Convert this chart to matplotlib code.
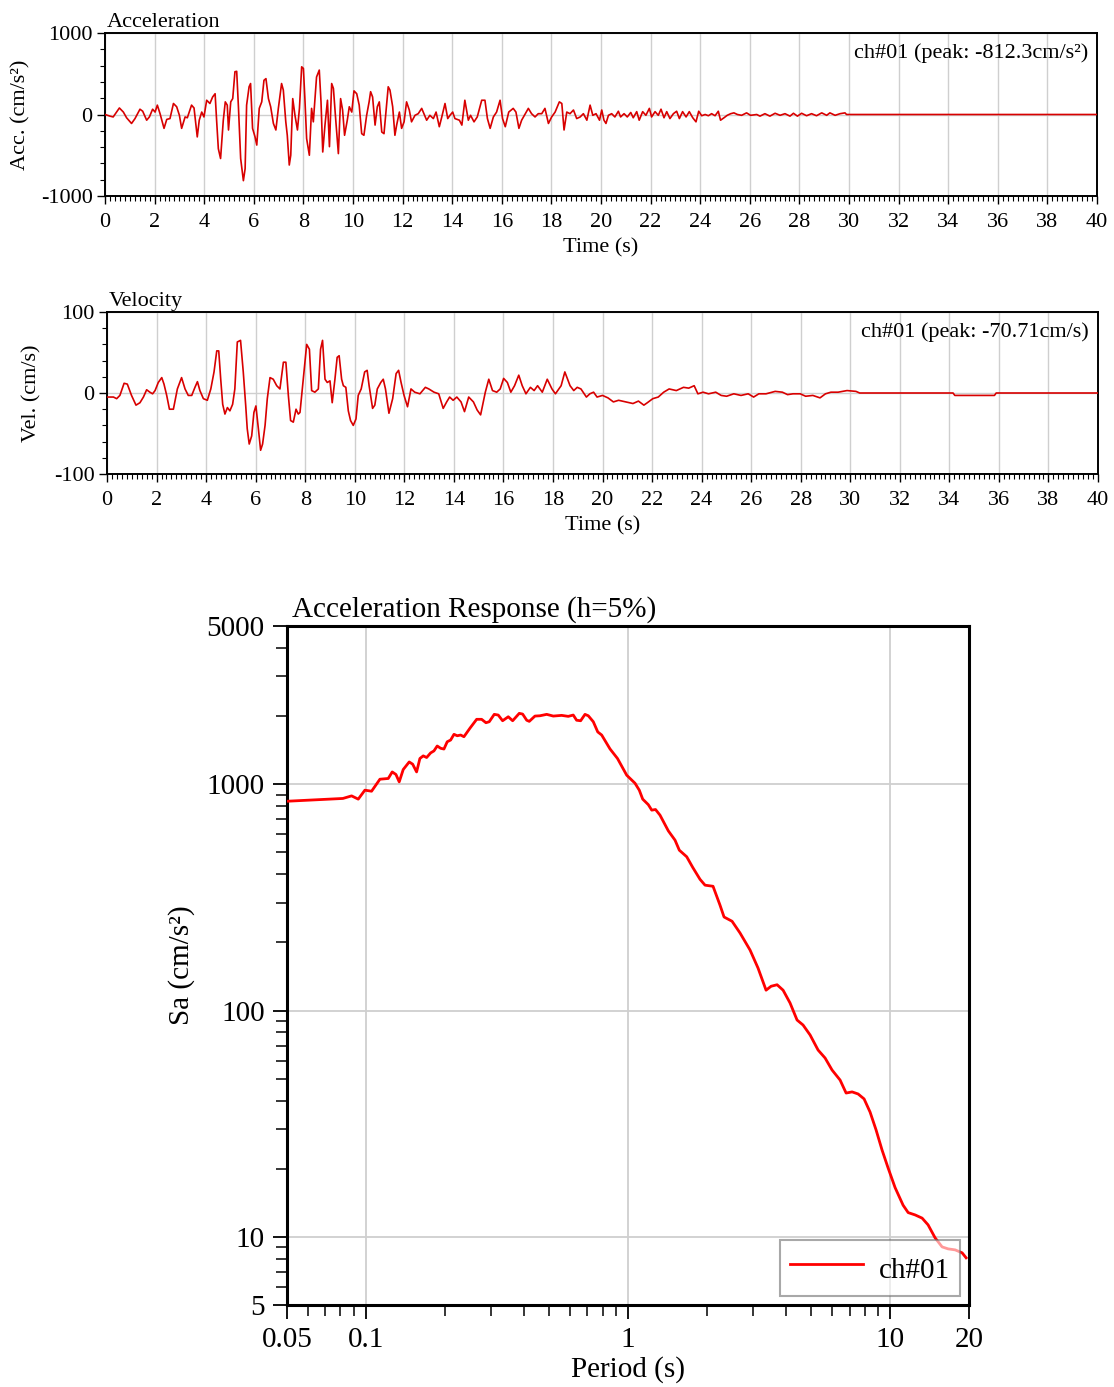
import matplotlib
matplotlib.use("Agg")
import matplotlib.pyplot as plt
from matplotlib.ticker import MultipleLocator, FixedLocator, NullFormatter

plt.rcParams['font.family'] = ['Liberation Serif', 'DejaVu Serif']
plt.rcParams['axes.unicode_minus'] = False

# acceleration time history (s, cm/s^2)
acc_t = [0.0, 0.2, 0.33, 0.58, 0.74, 0.87, 1.07, 1.21, 1.41, 1.52, 1.68, 1.79, 1.92, 2.02, 2.11,
         2.22, 2.38, 2.49, 2.62, 2.76, 2.89, 3.0, 3.09, 3.23, 3.32, 3.49, 3.59, 3.72, 3.8, 3.9,
         3.99, 4.1, 4.23, 4.34, 4.44, 4.5, 4.57, 4.66, 4.77, 4.85, 4.93, 4.98, 5.07, 5.15, 5.24,
         5.31, 5.38, 5.47, 5.58, 5.65, 5.71, 5.81, 5.87, 5.95, 6.05, 6.12, 6.22, 6.32, 6.41, 6.49,
         6.59, 6.68, 6.79, 6.89, 6.99, 7.12, 7.19, 7.29, 7.35, 7.43, 7.49, 7.57, 7.66, 7.76, 7.84,
         7.93, 8.0, 8.06, 8.13, 8.24, 8.33, 8.4, 8.53, 8.64, 8.71, 8.78, 8.87, 8.97, 9.05, 9.14,
         9.21, 9.31, 9.41, 9.5, 9.58, 9.66, 9.77, 9.85, 9.95, 10.04, 10.15, 10.25, 10.35, 10.44,
         10.55, 10.65, 10.71, 10.79, 10.89, 10.98, 11.06, 11.16, 11.25, 11.33, 11.42, 11.49, 11.6,
         11.69, 11.76, 11.87, 11.96, 12.06, 12.16, 12.27, 12.36, 12.5, 12.63, 12.77, 12.86, 12.97,
         13.1, 13.24, 13.35, 13.48, 13.58, 13.71, 13.82, 13.91, 14.02, 14.11, 14.29, 14.39, 14.51,
         14.65, 14.74, 14.88, 15.01, 15.19, 15.32, 15.42, 15.53, 15.66, 15.79, 15.93, 16.03, 16.14,
         16.28, 16.46, 16.57, 16.69, 16.8, 16.91, 17.07, 17.2, 17.34, 17.47, 17.61, 17.74, 17.88,
         18.01, 18.15, 18.32, 18.42, 18.51, 18.62, 18.75, 18.89, 19.02, 19.16, 19.29, 19.43, 19.56,
         19.67, 19.8, 19.94, 20.03, 20.12, 20.2, 20.3, 20.43, 20.56, 20.7, 20.79, 20.93, 21.06,
         21.2, 21.3, 21.44, 21.54, 21.68, 21.81, 21.95, 22.04, 22.18, 22.31, 22.42, 22.54, 22.65,
         22.78, 22.92, 23.05, 23.16, 23.29, 23.43, 23.56, 23.7, 23.83, 23.94, 24.06, 24.2, 24.33,
         24.46, 24.6, 24.73, 24.82, 24.96, 25.09, 25.23, 25.36, 25.5, 25.67, 25.87, 26.03, 26.28,
         26.41, 26.61, 26.81, 27.02, 27.22, 27.42, 27.62, 27.76, 27.92, 28.09, 28.29, 28.49, 28.69,
         28.9, 29.1, 29.23, 29.44, 29.64, 29.84, 29.9, 40.0]
acc_v = [0, -20, -30, 80, 30, -40, -110, -50, 65, 40, -70, -30, 65, 30, 115,
         10, -170, -60, -50, 135, 95, -10, -170, -30, -40, 115, 80, -275, -70, 30,
         -30, 175, 135, 215, 255, -70, -420, -540, -70, 155, 115, -190, 155, 195, 525,
         530, 95, -540, -812, -665, 115, 340, 380, -170, -275, -375, 75, 155, 420, 440,
         195, 95, -110, -190, 75, 380, 300, -90, -255, -620, -500, 195, -10, -190, 75,
         585, 565, 195, -295, -500, 75, -90, 460, 545, 155, -460, -130, 175, -395, 380,
         320, -90, -480, 195, 55, -255, -70, 95, 30, 290, 255, 115, -235, -255,
         -10, 155, 280, 215, -130, 95, 155, -215, -235, 30, 340, 300, 95,
         -255, -130, 30, -170, -90, 155, 55, -90, -10, 10, 75, 10, -70,
         -10, -50, 30, -150, -30, 135, -50, -10, 30, -50, -70, -130, 175,
         -70, -10, -90, -30, 175, 175, -50, -170, -30, 30, 175, -50, -150,
         30, 75, 30, -170, -70, -10, 75, 10, -30, 10, 10, 75, -110,
         -30, 30, 155, 135, -190, 30, 10, 55, -50, -30, 10, -70, 115,
         -10, 10, -70, 55, -70, -110, -10, 10, -30, 40, -30, 10, -30,
         25, -40, 35, -70, 35, -10, 75, -30, 35, -10, 65, -40, 35,
         -50, 10, 40, -50, 35, -30, 35, -40, -90, 40, -15, 0, -15,
         10, -15, 40, -70, -40, -10, 10, 20, 0, -10, 20, -10, 0,
         -20, 10, -20, 15, -10, 10, -20, 15, -20, 15, -15, 10, -15,
         20, -10, 20, -10, 10, 20, 0, 0]

# velocity time history (s, cm/s)
vel_t = [0.0, 0.26, 0.39, 0.52, 0.69, 0.82, 0.99, 1.17, 1.33, 1.47, 1.6, 1.73, 1.84, 1.94, 2.07,
         2.21, 2.3, 2.41, 2.52, 2.68, 2.84, 3.01, 3.15, 3.28, 3.42, 3.55, 3.65, 3.75, 3.89, 4.05,
         4.19, 4.32, 4.43, 4.51, 4.59, 4.67, 4.76, 4.86, 4.96, 5.07, 5.16, 5.26, 5.39, 5.5, 5.6,
         5.66, 5.74, 5.84, 5.93, 6.01, 6.11, 6.2, 6.28, 6.38, 6.47, 6.58, 6.71, 6.85, 6.98, 7.12,
         7.22, 7.32, 7.41, 7.52, 7.63, 7.72, 7.79, 7.92, 8.06, 8.17, 8.26, 8.39, 8.53, 8.62, 8.7,
         8.8, 8.89, 9.0, 9.09, 9.2, 9.29, 9.37, 9.47, 9.54, 9.64, 9.74, 9.83, 9.94, 10.05, 10.14,
         10.26, 10.4, 10.5, 10.58, 10.72, 10.81, 10.91, 11.05, 11.15, 11.24, 11.38, 11.53, 11.67,
         11.77, 11.87, 11.99, 12.13, 12.27, 12.42, 12.63, 12.85, 12.99, 13.2, 13.39, 13.57, 13.71,
         13.83, 13.97, 14.12, 14.29, 14.43, 14.6, 14.79, 14.94, 15.08, 15.27, 15.41, 15.56, 15.73,
         15.87, 16.01, 16.16, 16.3, 16.45, 16.62, 16.76, 16.91, 17.09, 17.24, 17.38, 17.57, 17.77,
         17.96, 18.1, 18.33, 18.48, 18.59, 18.69, 18.84, 18.98, 19.13, 19.35, 19.49, 19.64, 19.78,
         20.0, 20.22, 20.44, 20.65, 20.94, 21.23, 21.45, 21.67, 21.81, 22.03, 22.25, 22.47, 22.69,
         22.98, 23.27, 23.48, 23.7, 23.85, 24.06, 24.28, 24.57, 24.79, 25.01, 25.3, 25.59, 25.88,
         26.1, 26.31, 26.6, 26.97, 27.26, 27.47, 27.69, 27.98, 28.2, 28.49, 28.78, 29.0, 29.22,
         29.51, 29.87, 30.23, 30.38, 34.15, 34.22, 35.82, 35.89, 40.0]
vel_v = [-5, -5, -7, -3, 12, 11, -3, -15, -12, -5, 4, 1, -1, 3, 13,
         19, 11, -3, -20, -20, 5, 19, 5, -3, -3, 7, 14, 3, -7, -9,
         5, 26, 52, 52, 17, -14, -26, -18, -22, -14, 5, 63, 65, 26, -16,
         -44, -63, -53, -24, -16, -44, -70.7, -63, -40, -7, 19, 17, 9, 5, 38,
         38, -3, -34, -36, -20, -26, -24, 17, 60, 54, 3, 1, 5, 54, 65,
         17, 13, 15, -12, 17, 44, 46, 17, 9, 7, -22, -34, -40, -32, -3,
         5, 26, 28, 9, -19, -15, 5, 13, 17, 5, -25, -7, 24,
         28, 13, -3, -17, 5, 1, -1, 7, 5, 1, -1, -19, -11,
         -5, -9, -5, -11, -23, -5, -11, -21, -27, 1, 17, 3, 1,
         5, 18, 13, 1, 9, 22, 9, -1, 7, 3, 9, 1, 17,
         5, -1, 9, 26, 17, 9, 3, 7, 5, -5, -1, 1, -5,
         -3, -6, -11, -9, -11, -13, -10, -15, -12, -7, -5, 1, 5,
         3, 7, 6, 9, -1, 1, -1, 1, -3, -4, -1, -3, -1,
         -5, -1, -1, 2, 1, -2, -1, -1, -4, -3, -6, -1, 1,
         1, 3, 2, 0, 0, -3, -3, 0, 0]

# 5% damped acceleration response spectrum (period s, Sa cm/s^2)
sa_period = [0.0502, 0.0817, 0.0882, 0.0935, 0.0991, 0.1051, 0.1131, 0.1217, 0.126, 0.1302,
             0.134, 0.1388, 0.1463, 0.1508, 0.1561, 0.1607, 0.1655, 0.1705, 0.1766, 0.1818,
             0.1871, 0.1929, 0.1985, 0.2043, 0.2105, 0.2168, 0.2231, 0.2299, 0.2366, 0.2493,
             0.2646, 0.2764, 0.2871, 0.2955, 0.3088, 0.3198, 0.3323, 0.3493, 0.363, 0.3847,
             0.3963, 0.4107, 0.4201, 0.4416, 0.4613, 0.4895, 0.5187, 0.5582, 0.5917, 0.6182,
             0.6367, 0.6596, 0.6854, 0.7055, 0.7372, 0.7666, 0.7936, 0.8537, 0.9118, 0.9886,
             1.0634, 1.1043, 1.1379, 1.1954, 1.2318, 1.2735, 1.3246, 1.4252, 1.5115, 1.5697,
             1.675, 1.7658, 1.8826, 1.9674, 2.1106, 2.2445, 2.3251, 2.4946, 2.6762, 2.9222,
             3.1345, 3.3633, 3.5146, 3.7055, 3.906, 4.1521, 4.4157, 4.6546, 4.9513, 5.3117,
             5.6484, 6.0053, 6.445, 6.7946, 7.1614, 7.5484, 7.9563, 8.3862, 8.8393, 9.3168,
             9.82, 10.45, 11.21, 11.72, 12.46, 13.25, 13.96, 14.85, 15.79, 16.65, 17.71, 18.83, 19.5]
sa_value = [841, 865, 888, 859, 941, 931, 1052, 1060, 1133, 1104,
            1024, 1161, 1254, 1226, 1133, 1299, 1334, 1312, 1375, 1403,
            1475, 1441, 1430, 1540, 1567, 1661, 1637, 1649, 1621, 1766,
            1935, 1935, 1869, 1888, 2035, 2021, 1907, 1986, 1907, 2056,
            2041, 1917, 1895, 2000, 2006, 2035, 2000, 2014, 1994, 2021,
            1917, 1907, 2035, 2006, 1888, 1702, 1649, 1432, 1299, 1096,
            1010, 941, 859, 812, 768, 773, 730, 622, 566, 511,
            478, 429, 380, 358, 354, 292, 259, 248, 220, 185,
            154, 123, 128, 130, 123, 108, 90.8, 86.3, 78.0, 66.9,
            61.7, 54.6, 49.3, 43.2, 43.7, 42.8, 40.7, 35.6, 29.7, 24.2,
            20.2, 16.5, 13.8, 12.8, 12.5, 12.1, 11.3, 9.9, 9.03, 8.85, 8.76, 8.5, 8.08]

W, H = 1114, 1387
fig = plt.figure(figsize=(W / 100, H / 100), dpi=100)
small = 16
grid_col = '#cfcfcf'
trace_col = '#d80000'


def time_panel(rect, t, v, lim, minor, title, ylabel, note, ylab_x):
    ax = fig.add_axes(rect)
    ax.plot(t, v, color=trace_col, lw=1.2, zorder=3)
    ax.set_xlim(0, 40)
    ax.set_ylim(-lim, lim)
    ax.xaxis.set_major_locator(MultipleLocator(2))
    ax.xaxis.set_minor_locator(MultipleLocator(0.2))
    ax.yaxis.set_major_locator(MultipleLocator(lim))
    ax.yaxis.set_minor_locator(MultipleLocator(minor))
    ax.tick_params(which='major', length=6, width=1, labelsize=small, pad=3)
    ax.tick_params(axis='x', which='major', pad=6)
    ax.tick_params(which='minor', length=3.5, width=0.8)
    ax.grid(True, which='major', color=grid_col, lw=1.0, zorder=0)
    for s in ax.spines.values():
        s.set_linewidth(1.4)
    ax.text(0.002, 1.005, title, transform=ax.transAxes, ha='left', va='bottom', fontsize=small)
    ax.text(0.991, 0.875, note, transform=ax.transAxes, ha='right', va='center', fontsize=small)
    ax.set_xlabel('Time (s)', fontsize=small, labelpad=5)
    ax.set_ylabel(ylabel, fontsize=small)
    ax.yaxis.set_label_coords(ylab_x, 0.5)
    return ax


time_panel([105 / W, 1 - 196 / H, 992 / W, 163 / H], acc_t, acc_v, 1000, 200,
           'Acceleration', 'Acc. (cm/s²)', 'ch#01 (peak: -812.3cm/s²)', -0.075)
time_panel([107 / W, 1 - 474 / H, 991 / W, 162 / H], vel_t, vel_v, 100, 20,
           'Velocity', 'Vel. (cm/s)', 'ch#01 (peak: -70.71cm/s)', -0.066)

# response spectrum
big = 21
ax = fig.add_axes([287 / W, 1 - 1305 / H, 682 / W, 679 / H])
ax.set_xscale('log')
ax.set_yscale('log')
ax.set_xlim(0.05, 20)
ax.set_ylim(5, 5000)
for g in [0.1, 1, 10]:
    ax.axvline(g, color=grid_col, lw=1.3, zorder=0)
for g in [10, 100, 1000]:
    ax.axhline(g, color=grid_col, lw=1.3, zorder=0)
ax.plot(sa_period, sa_value, color='#ff0000', lw=2.0, label='ch#01', zorder=3)
ax.xaxis.set_major_locator(FixedLocator([0.05, 0.1, 1, 10, 20]))
ax.set_xticklabels(['0.05', '0.1', '1', '10', '20'])
ax.yaxis.set_major_locator(FixedLocator([5, 10, 100, 1000, 5000]))
ax.set_yticklabels(['5', '10', '100', '1000', '5000'])
ax.xaxis.set_minor_formatter(NullFormatter())
ax.yaxis.set_minor_formatter(NullFormatter())
ax.tick_params(which='major', length=10, width=1.3, labelsize=big, pad=6)
ax.tick_params(which='minor', length=8, width=1.1)
for s in ax.spines.values():
    s.set_linewidth(2.2)
ax.text(0.008, 1.005, 'Acceleration Response (h=5%)', transform=ax.transAxes,
        ha='left', va='bottom', fontsize=big)
ax.set_xlabel('Period (s)', fontsize=big, labelpad=2)
ax.set_ylabel('Sa (cm/s²)', fontsize=big)
ax.yaxis.set_label_coords(-0.135, 0.5)
leg = ax.legend(loc='lower right', bbox_to_anchor=(0.987, 0.013), borderaxespad=0,
                fontsize=big, frameon=True, fancybox=False, framealpha=0.6,
                edgecolor='#6e6e6e', handlelength=2.5, handleheight=1.5,
                borderpad=0.35, handletextpad=0.55)
leg.get_frame().set_linewidth(1.5)

fig.savefig('out.png', dpi=100)
